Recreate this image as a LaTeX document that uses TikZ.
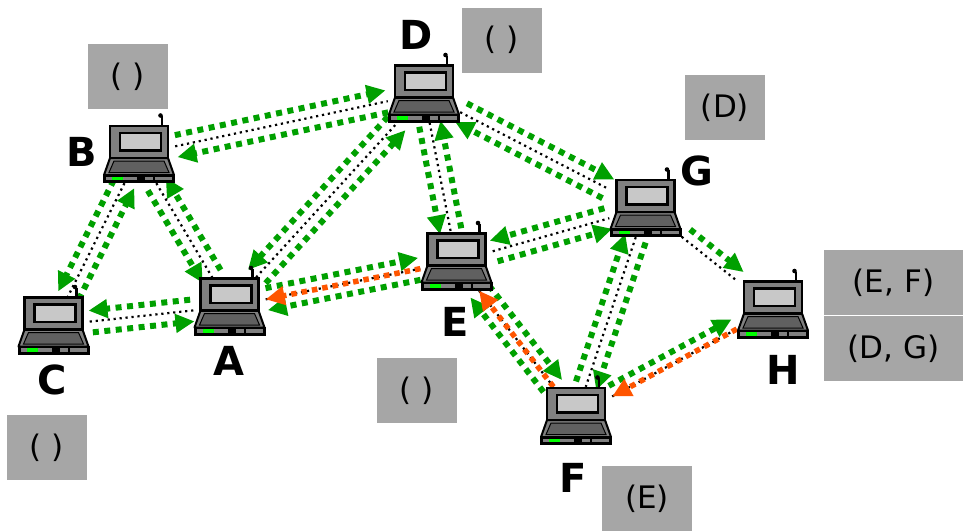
\documentclass[tikz,border=0pt]{standalone}
\usepackage{fontspec}
\setmainfont{DejaVu Sans}
\usetikzlibrary{arrows.meta,calc}
\definecolor{grn}{RGB}{0,160,0}
\definecolor{rte}{RGB}{255,85,0}
\definecolor{boxgray}{RGB}{166,166,166}
\definecolor{lapgray}{RGB}{128,128,128}
\definecolor{keygray}{RGB}{96,96,96}
\definecolor{scrgray}{RGB}{200,200,200}
\definecolor{led}{RGB}{0,255,0}
\tikzset{
  lapnode/.style={rectangle, minimum width=72pt, minimum height=58pt, inner sep=0pt},
  lbl/.style={inner sep=0pt, font=\bfseries\fontsize{40}{40}\selectfont},
  gbox/.style={fill=boxgray, inner sep=0pt, minimum width=80pt, minimum height=65pt, font=\fontsize{31}{31}\selectfont},
  blackdot/.style={black, line width=2.2pt, dash pattern=on 2.2pt off 3.8pt},
  grnarrow/.style={grn, line width=6pt, dash pattern=on 6pt off 5.5pt, -{Triangle[length=19pt,width=18pt]}, shorten <=2pt},
  redarrow/.style={rte, line width=5.5pt, dash pattern=on 5.5pt off 5pt, -{Triangle[length=19pt,width=18pt]}},
  laptop/.pic={
    \draw[line width=2.5pt] (23,-28) -- (23,-38);
    \fill (21.5,-38.5) circle (2.3pt);
    \draw[fill=lapgray, line width=2pt, line join=round] (-29,4) -- (29,4) -- (35,21) -- (-35,21) -- cycle;
    \draw[fill=keygray, line width=1pt] (-25,7) -- (25,7) -- (30,18.5) -- (-30,18.5) -- cycle;
    \draw[fill=black, line width=1pt] (-35.5,20.5) rectangle (35.5,28.5);
    \fill[lapgray] (-33,22.5) rectangle (33,26);
    \fill[black] (-2,22.5) rectangle (6,26);
    \fill[black] (14,22.5) rectangle (16,26);
    \fill[led] (-27,22.5) rectangle (-16,26);
    \draw[fill=lapgray, line width=2.2pt] (-29,-28) rectangle (29,4);
    \draw[fill=scrgray, line width=2.2pt] (-19,-21) rectangle (22,-3.5);
  }
}
\newcommand\garrL[2]{%
  \path (#1) -- (#2) coordinate[pos=0] (tmpS) coordinate[pos=1] (tmpE);
  \draw[grnarrow] ($(tmpS)!11pt!90:(tmpE)$) -- ($(tmpE)!11pt!-90:(tmpS)$);}
\newcommand\garrR[2]{%
  \path (#1) -- (#2) coordinate[pos=0] (tmpS) coordinate[pos=1] (tmpE);
  \draw[grnarrow] ($(tmpS)!11pt!-90:(tmpE)$) -- ($(tmpE)!11pt!90:(tmpS)$);}
\begin{document}
\begin{tikzpicture}[x=1pt,y=-1pt]
\useasboundingbox[fill=white] (0,0) rectangle (963,531);
% info boxes
\node[gbox] (bxB) at (128,76.5) {( )};
\node[gbox] (bxD) at (502,40) {( )};
\node[gbox] (bxG) at (725,107.5) {(D)};
\node[gbox, minimum width=139pt] (bxH1) at (893.5,282.5) {(E, F)};
\node[gbox, minimum width=139pt] (bxH2) at (893.5,348.5) {(D, G)};
\node[gbox] (bxE) at (417,390.5) {( )};
\node[gbox] (bxC) at (47,447.5) {( )};
\node[gbox, minimum width=90pt] (bxF) at (647,498.5) {(E)};
% labels
\node[lbl] (lD) at (416,35) {D};
\node[lbl] (lB) at (82,152) {B};
\node[lbl] (lC) at (52,380) {C};
\node[lbl] (lA) at (229,361) {A};
\node[lbl] (lE) at (455,322) {E};
\node[lbl] (lG) at (697,171) {G};
\node[lbl] (lH) at (783,370) {H};
\node[lbl] (lF) at (573,478) {F};
% laptop nodes
\node[lapnode] (D) at (424,93.5) {};
\node[lapnode] (B) at (139,154) {};
\node[lapnode] (C) at (53.5,325.5) {};
\node[lapnode] (A) at (229.5,306.5) {};
\node[lapnode] (E) at (456.5,261.5) {};
\node[lapnode] (G) at (645.5,208) {};
\node[lapnode] (H) at (773,309.5) {};
\node[lapnode] (F) at (576,416) {};
% black dotted links
\foreach \a/\b in {B/D,B/C,B/A,C/A,A/D,A/E,D/E,D/G,E/G,E/F,G/F,G/H,F/H}
  \draw[blackdot] (\a) -- (\b);
% green arrows
\garrL{B}{D}\garrL{D}{B}
\garrR{B}{C}\garrR{C}{B}
\garrR{B}{A}\garrR{A}{B}
\garrR{C}{A}\garrR{A}{C}
\garrR{A}{D}\garrR{D}{A}
\garrL{A}{E}\garrL{E}{A}
\garrR{D}{E}\garrR{E}{D}
\garrL{D}{G}\garrL{G}{D}
\garrR{E}{G}\garrR{G}{E}
\garrL{E}{F}\garrL{F}{E}
\garrL{F}{G}\garrL{G}{F}
\garrL{G}{H}
\garrL{F}{H}
% route reply
\draw[redarrow] (H) -- (F);
\draw[redarrow] (F) -- (E);
\draw[redarrow] (E) -- (A);
% laptops
\foreach \n in {D,B,C,A,E,G,H,F}
  \pic at (\n) {laptop};
\end{tikzpicture}
\end{document}
